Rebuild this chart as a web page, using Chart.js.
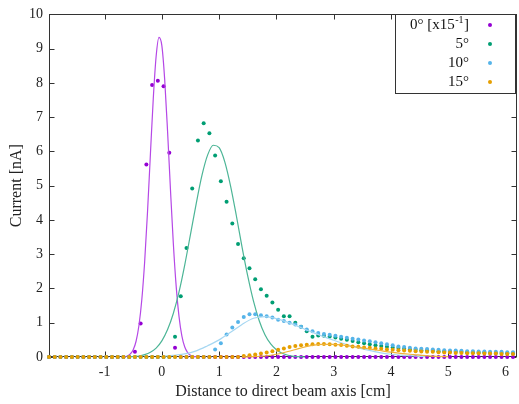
<!DOCTYPE html>
<html><head><meta charset="utf-8">
<script src="https://cdn.jsdelivr.net/npm/chart.js@4.4.1/dist/chart.umd.min.js"></script>
<style>html,body{margin:0;padding:0;background:#fff}</style>
</head><body>
<canvas id="c" width="519" height="404"></canvas>
<script>
// Distance to direct beam axis [cm] for the measured points
const distance = [-1.97,-1.87,-1.77,-1.67,-1.57,-1.47,-1.37,-1.27,-1.17,-1.07,-0.97,-0.87,-0.77,-0.67,-0.57,-0.47,-0.37,-0.27,-0.17,-0.07,
  0.03,0.13,0.23,0.33,0.43,0.53,0.63,0.73,0.83,0.93,1.03,1.13,1.23,1.33,1.43,1.53,1.63,1.73,1.83,1.93,
  2.03,2.13,2.23,2.33,2.43,2.53,2.63,2.73,2.83,2.93,3.03,3.13,3.23,3.33,3.43,3.53,3.63,3.73,3.83,3.93,
  4.03,4.13,4.23,4.33,4.43,4.53,4.63,4.73,4.83,4.93,5.03,5.13,5.23,5.33,5.43,5.53,5.63,5.73,5.83,5.93,6.03,6.13];

// Current [nA]
const current0 = [0,0,0,0,0,0,0,0,0,0,0,0,0,0,0,0.15,0.98,5.62,7.94,8.06,
  7.90,5.96,0.27,0,0,0,0,0,0,0,0,0,0,0,0,0,0,0,0,0,
  0,0,0,0,0,0,0,0,0,0,0,0,0,0,0,0,0,0,0,0,
  0,0,0,0,0,0,0,0,0,0,0,0,0,0,0,0,0,0,0,0,0,0];
const current5 = [0,0,0,0,0,0,0,0,0,0,0,0,0,0,0,0,0,0,0,0,
  0,0,0.59,1.77,3.18,4.92,6.32,6.82,6.53,5.88,5.13,4.53,3.90,3.30,2.88,2.59,2.27,1.98,1.79,1.59,
  1.38,1.19,1.19,1.00,0.88,0.75,0.59,0.63,0.62,0.60,0.57,0.53,0.50,0.47,0.43,0.40,0.37,0.34,0.32,0.30,
  0.28,0.26,0.24,0.22,0.21,0.20,0.19,0.18,0.17,0.16,0.16,0.15,0.15,0.14,0.14,0.13,0.13,0.12,0.12,0.12,0.11,0.11];
const current10 = [0,0,0,0,0,0,0,0,0,0,0,0,0,0,0,0,0,0,0,0,
  0,0,0,0,0,0,0,0,0,0.22,0.40,0.66,0.86,1.02,1.17,1.25,1.25,1.22,1.19,1.15,
  1.09,1.05,1.00,0.95,0.88,0.80,0.75,0.70,0.67,0.65,0.62,0.59,0.56,0.53,0.51,0.48,0.46,0.43,0.40,0.37,
  0.34,0.31,0.29,0.27,0.25,0.24,0.23,0.22,0.21,0.20,0.19,0.19,0.18,0.17,0.17,0.16,0.16,0.15,0.15,0.15,0.14,0.14];
const current15 = [0,0,0,0,0,0,0,0,0,0,0,0,0,0,0,0,0,0,0,0,
  0,0,0,0,0,0,0,0,0,0,0,0,0,0,0.03,0.05,0.07,0.10,0.13,0.17,
  0.21,0.25,0.29,0.32,0.34,0.36,0.37,0.38,0.38,0.37,0.36,0.35,0.33,0.31,0.30,0.28,0.27,0.25,0.24,0.22,
  0.21,0.20,0.19,0.18,0.17,0.16,0.15,0.15,0.14,0.13,0.13,0.12,0.12,0.11,0.11,0.11,0.10,0.10,0.10,0.09,0.09,0.09];

// Fit curves
const fit0X = [-0.65,-0.6,-0.55,-0.5,-0.45,-0.4,-0.35,-0.3,-0.25,-0.2,-0.15,-0.1,-0.05,0,0.05,0.1,0.15,0.2,0.25,0.3,0.35,0.4,0.45,0.5,0.55,0.6];
const fit0Y = [0.01,0.03,0.09,0.21,0.46,0.92,1.67,2.78,4.24,5.91,7.53,8.77,9.33,9.09,8.09,6.58,4.90,3.33,2.07,1.18,0.61,0.29,0.13,0.05,0.02,0.01];
const fit5X = [-0.6,-0.5,-0.4,-0.3,-0.2,-0.1,0,0.1,0.2,0.3,0.4,0.5,0.6,0.7,0.8,0.9,1.0,1.1,1.2,1.3,1.4,1.5,1.6,1.7,1.8,1.9,2.0,2.1,2.2,2.3,2.4,2.5];
const fit5Y = [0.01,0.01,0.03,0.07,0.14,0.26,0.47,0.80,1.27,1.90,2.69,3.58,4.48,5.30,5.90,6.18,6.11,5.69,4.99,4.13,3.21,2.36,1.63,1.06,0.65,0.38,0.21,0.11,0.05,0.02,0.01,0];
const fit10X = [0,0.2,0.4,0.6,0.8,1.0,1.2,1.4,1.6,1.8,2.0,2.2,2.4,2.6,2.8,3.0,3.2,3.4,3.6,3.8,4.0,4.2,4.4,4.6];
const fit10Y = [0.02,0.05,0.09,0.18,0.33,0.50,0.72,0.95,1.13,1.18,1.12,1.01,0.88,0.74,0.61,0.49,0.38,0.28,0.20,0.13,0.08,0.05,0.03,0.01];
const fit15X = [1.4,1.6,1.8,2.0,2.2,2.4,2.6,2.8,3.0,3.2,3.4,3.6,3.8,4.0,4.2,4.4,4.6,4.8,5.0];
const fit15Y = [0,0.01,0.03,0.08,0.16,0.25,0.33,0.37,0.37,0.34,0.29,0.24,0.19,0.14,0.10,0.07,0.04,0.02,0.01];

const xTicks = [-1,0,1,2,3,4,5,6];
const yTicks = [0,1,2,3,4,5,6,7,8,9,10];
const legendLabels = ['0° [x15', '5°', '10°', '15°'];

const ptColors = ['#9400d3','#009e73','#56b4e9','#e69f00'];
const lineColors = ['#b548e6','#4cb596','#a6d7f2','#efb33a'];

const pts = (xs, ys) => xs.map((x, i) => ({x: x, y: ys[i]}));
const series = [current0, current5, current10, current15];
const fits = [[fit0X, fit0Y],[fit5X, fit5Y],[fit10X, fit10Y],[fit15X, fit15Y]];

const datasets = [];
series.forEach((s, k) => {
  datasets.push({data: pts(distance, s), showLine: false, pointRadius: 2, pointHoverRadius: 2,
    pointBorderWidth: 0, backgroundColor: ptColors[k], borderColor: ptColors[k], order: 20 - 2*k, clip: false});
  datasets.push({data: pts(fits[k][0], fits[k][1]), showLine: true, pointRadius: 0, borderWidth: 1.2,
    borderColor: lineColors[k], backgroundColor: lineColors[k], cubicInterpolationMode: 'monotone',
    order: 19 - 2*k, clip: false});
});

const FONT = '"Liberation Serif", "Times New Roman", serif';

const framePlugin = {
  id: 'frame',
  beforeDatasetsDraw(chart) {
    const {ctx, chartArea: a, scales: {x, y}} = chart;
    ctx.save();
    ctx.strokeStyle = '#333';
    ctx.lineWidth = 1;
    const L = Math.round(a.left) + 0.5, R = Math.round(a.right) - 0.5;
    const T = Math.round(a.top) + 0.5, B = Math.round(a.bottom) - 0.5;
    ctx.strokeRect(L, T, R - L, B - T);
    ctx.beginPath();
    xTicks.forEach(v => {
      const px = Math.round(x.getPixelForValue(v)) + 0.5;
      ctx.moveTo(px, B); ctx.lineTo(px, B - 5);
      ctx.moveTo(px, T); ctx.lineTo(px, T + 5);
    });
    yTicks.forEach(v => {
      const py = Math.round(y.getPixelForValue(v)) + 0.5;
      ctx.moveTo(L, py); ctx.lineTo(L + 5, py);
      ctx.moveTo(R, py); ctx.lineTo(R - 5, py);
    });
    ctx.stroke();
    ctx.restore();
  },
  afterDraw(chart) {
    const {ctx} = chart;
    ctx.save();
    // legend box
    ctx.fillStyle = '#fff';
    ctx.fillRect(395.5, 14.5, 120, 79);
    ctx.strokeStyle = '#333';
    ctx.lineWidth = 1;
    ctx.strokeRect(395.5, 14.5, 120, 79);
    const rows = [25, 44, 63, 82];
    const textRight = 469;
    ctx.fillStyle = '#111';
    ctx.textBaseline = 'middle';
    ctx.font = '15px ' + FONT;
    rows.forEach((ry, k) => {
      ctx.fillStyle = '#111';
      if (k === 0) {
        ctx.font = '15px ' + FONT;
        const wClose = ctx.measureText(']').width;
        ctx.font = '10px ' + FONT;
        const wSup = ctx.measureText('-1').width;
        ctx.font = '15px ' + FONT;
        const wMain = ctx.measureText(legendLabels[0]).width;
        let xs = textRight - wClose - wSup - wMain - 1;
        ctx.textAlign = 'left';
        ctx.fillText(legendLabels[0], xs, ry);
        xs += wMain + 0.5;
        ctx.font = '10px ' + FONT;
        ctx.fillText('-1', xs, ry - 5);
        xs += wSup + 0.5;
        ctx.font = '15px ' + FONT;
        ctx.fillText(']', xs, ry);
      } else {
        ctx.textAlign = 'right';
        ctx.font = '15px ' + FONT;
        ctx.fillText(legendLabels[k], textRight, ry);
      }
      ctx.fillStyle = ptColors[k];
      ctx.beginPath();
      ctx.arc(490, ry, 2, 0, Math.PI * 2);
      ctx.fill();
    });
    ctx.restore();
  }
};

new Chart(document.getElementById('c'), {
  type: 'scatter',
  data: {datasets},
  options: {
    responsive: false,
    animation: false,
    events: [],
    layout: {padding: {top: 12, right: 2, left: 0, bottom: 0}},
    plugins: {legend: {display: false}, tooltip: {enabled: false}},
    scales: {
      x: {
        type: 'linear', min: -1.97, max: 6.2,
        afterBuildTicks: s => { s.ticks = xTicks.map(v => ({value: v})); },
        afterFit: s => { s.height = 47; },
        grid: {display: false, drawTicks: false},
        border: {display: false},
        ticks: {font: {family: FONT, size: 14}, color: '#222', padding: 7, maxRotation: 0},
        title: {display: true, text: 'Distance to direct beam axis [cm]', font: {family: FONT, size: 16}, color: '#222', padding: {top: 0, bottom: 3}}
      },
      y: {
        type: 'linear', min: 0, max: 10,
        afterBuildTicks: s => { s.ticks = yTicks.map(v => ({value: v})); },
        afterFit: s => { s.width = 49; },
        grid: {display: false, drawTicks: false},
        border: {display: false},
        ticks: {font: {family: FONT, size: 14}, color: '#222', padding: 6},
        title: {display: true, text: 'Current [nA]', font: {family: FONT, size: 16}, color: '#222', padding: {top: 7, bottom: 0}}
      }
    }
  },
  plugins: [framePlugin]
});
</script>
</body></html>
